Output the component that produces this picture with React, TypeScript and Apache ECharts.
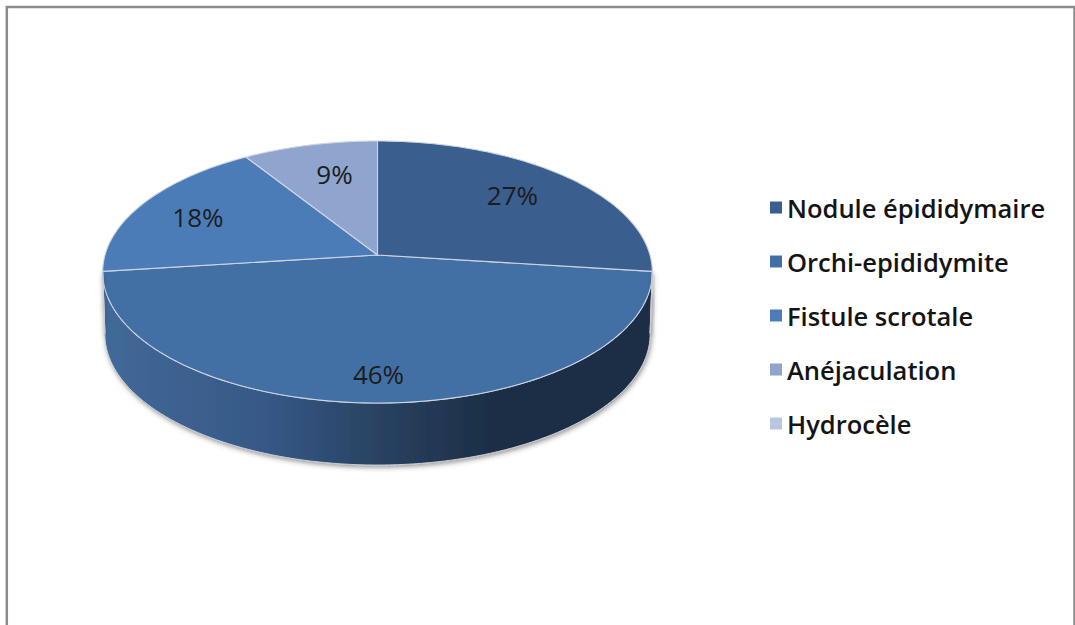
import React, { useEffect, useRef } from "react";
import * as echarts from "echarts";

const categories = ["Nodule épididymaire", "Orchi-epididymite", "Fistule scrotale", "Anéjaculation", "Hydrocèle"];
const percentages = [27, 46, 18, 9, 0];
const sliceColors = ["#3a5f8e", "#4270a5", "#4b7cb8", "#8fa5cd", "#b8c6e0"];
const labelRadii = [0.7, 0.84, 0.75, 0.67, 0.7];
const labelNudges = [[0, -1], [1, 1], [-2, 4], [4, -2], [0, 0]];

const APEX_X = 377.5;
const APEX_Y = 255;
const A = 272.5;
const B = 128.8;
const K = 0.13;
const DEPTH = 62;

function project(thetaDeg: number, r = 1, down = 0, shrink = 1): [number, number] {
  const t = (thetaDeg * Math.PI) / 180;
  const u = Math.sin(t) * r;
  const v = -Math.cos(t) * r;
  const d = 1 - K * v;
  return [APEX_X + (shrink * A * u) / d, APEX_Y + (B * v) / d + down];
}

function arc(a0: number, a1: number, down = 0, shrink = 1): [number, number][] {
  const n = Math.max(2, Math.ceil(Math.abs(a1 - a0) / 1.5));
  const pts: [number, number][] = [];
  for (let i = 0; i <= n; i++) pts.push(project(a0 + ((a1 - a0) * i) / n, 1, down, shrink));
  return pts;
}

const wallGradient = {
  type: "linear", global: true, x: 103, y: 0, x2: 652, y2: 0,
  colorStops: [
    { offset: 0, color: "#42699a" },
    { offset: 0.3, color: "#365886" },
    { offset: 0.52, color: "#28405f" },
    { offset: 0.72, color: "#1b2d45" },
    { offset: 1, color: "#1b2d45" },
  ],
};

const VIS_START = 97;
const VIS_END = 263;

function makeRender(index: number) {
  return (_params: any, api: any) => {
    const share = api.value(1) as number;
    if (!share) return { type: "group", children: [] };
    const start = (api.value(0) as number) * 3.6;
    const end = start + share * 3.6;
    const children: any[] = [];
    const a0 = Math.max(start, VIS_START);
    const a1 = Math.min(end, VIS_END);
    if (a1 > a0) {
      const wall = [...arc(a0, a1), ...arc(a1, a0, DEPTH, 0.992)];
      children.push({
        type: "polygon",
        shape: { points: wall },
        style: {
          fill: wallGradient, stroke: "#c9ccd2", lineWidth: 1,
          shadowBlur: 5, shadowColor: "rgba(60,60,60,0.55)", shadowOffsetX: 1, shadowOffsetY: 2,
        },
      });
    }
    children.push({
      type: "polygon",
      shape: { points: [[APEX_X, APEX_Y], ...arc(start, end)] },
      style: { fill: sliceColors[index], stroke: "#cdd5e2", lineWidth: 1.1, lineJoin: "round" },
      z2: 2,
    });
    const [lx, ly] = project((start + end) / 2, labelRadii[index]);
    children.push({
      type: "text",
      z2: 5,
      style: {
        x: lx + labelNudges[index][0], y: ly - 3 + labelNudges[index][1], text: `${share}%`,
        align: "center", verticalAlign: "middle",
        fontFamily: "Open Sans", fontSize: 26, fill: "#1c1c1c",
      },
    });
    return { type: "group", children };
  };
}

export default function App() {
  const ref = useRef<HTMLDivElement>(null);
  useEffect(() => {
    const chart = echarts.init(ref.current!, null, { renderer: "svg" });
    let cum = 0;
    const series = categories.map((name, i) => {
      const startShare = cum;
      cum += percentages[i];
      return {
        type: "custom",
        name,
        coordinateSystem: "none",
        renderItem: makeRender(i),
        itemStyle: { color: sliceColors[i] },
        z: i === 1 ? 1 : 2,
        silent: true,
        data: [[startShare, percentages[i]]],
      };
    });
    chart.setOption({
      animation: false,
      backgroundColor: "#ffffff",
      legend: {
        orient: "vertical",
        left: 765,
        top: 186,
        icon: "rect",
        itemWidth: 12,
        itemHeight: 12,
        itemGap: 21,
        selectedMode: false,
        data: categories,
        textStyle: { fontFamily: "Open Sans", fontWeight: 600, fontSize: 25.5, color: "#141414", lineHeight: 33 },
      },
      graphic: [
        {
          type: "polyline",
          shape: { points: [[6.8, 625], [6.8, 7], [1074.5, 7], [1074.5, 625]] },
          style: { stroke: "#8c8c8c", lineWidth: 2.5, fill: "none" },
          silent: true,
        },
      ],
      series,
    } as any);
    return () => chart.dispose();
  }, []);
  return <div ref={ref} style={{ position: "absolute", left: 0, top: 0, width: 1075, height: 625 }} />;
}
